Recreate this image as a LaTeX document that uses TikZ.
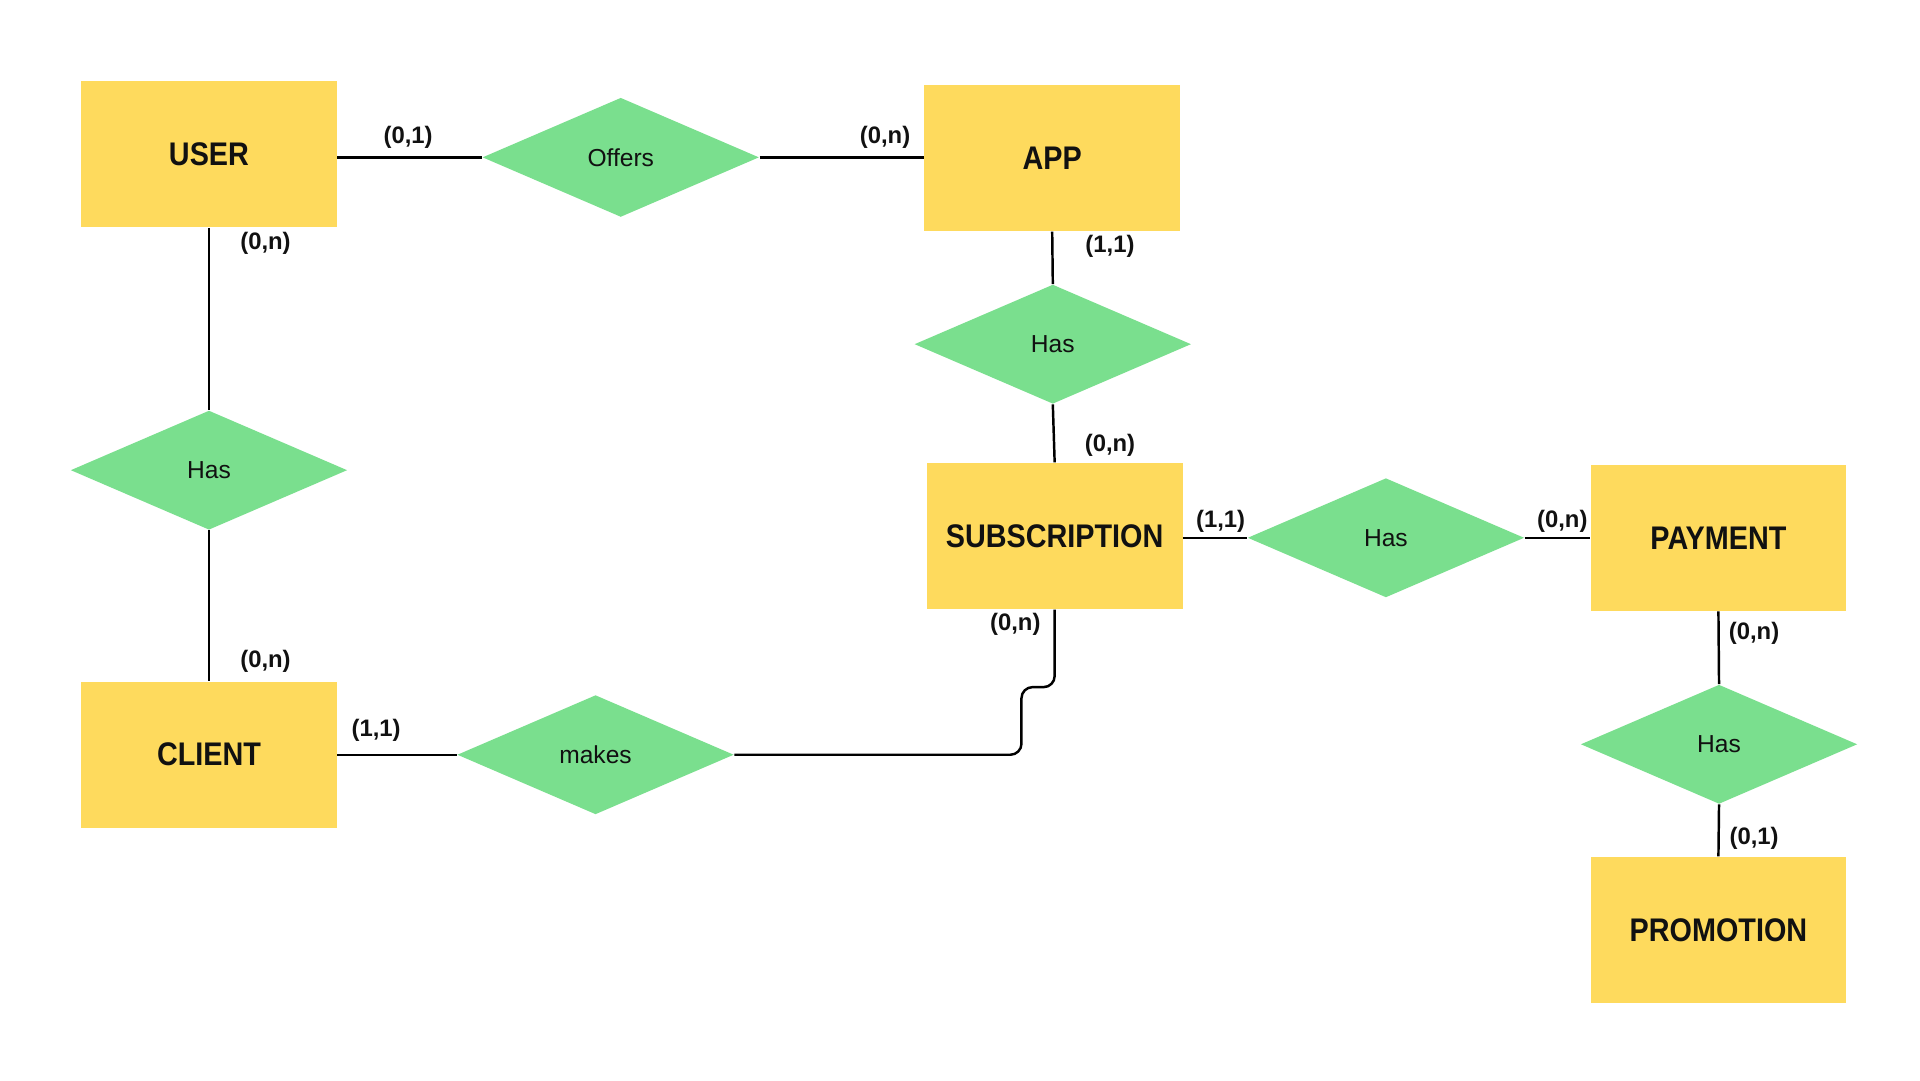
\documentclass[tikz,border=0pt]{standalone}
\usepackage{fontspec}
\setmainfont{Liberation Sans}
\newfontfamily\entfont{Liberation Sans}[FakeStretch=0.88]
\usetikzlibrary{shapes.geometric}
\definecolor{entyellow}{HTML}{FEDA5D}
\definecolor{relgreen}{HTML}{7ADF8E}
\definecolor{ink}{HTML}{111111}
\begin{document}
\begin{tikzpicture}[x=0.5pt,y=-0.5pt,
  entity/.style={fill=entyellow, minimum width=104pt, minimum height=59.5pt, inner sep=0pt, text=ink,
    font=\entfont\bfseries\fontsize{13.3}{15}\selectfont},
  rel/.style={diamond, fill=relgreen, minimum width=112.5pt, minimum height=48.5pt, inner sep=0pt, text=ink,
    font=\fontsize{10}{12}\selectfont},
  card/.style={font=\bfseries\fontsize{9.7}{11}\selectfont, inner sep=0pt, text=ink},
  link/.style={line width=1pt, draw=black}]
\useasboundingbox[fill=white] (0,0) rectangle (1562,879);

% entities
\node[entity] (user)  at (170,125.5) {USER};
\node[entity] (app)   at (856,128.5) {APP};
\node[entity] (sub)   at (858,436)   {SUBSCRIPTION};
\node[entity] (pay)   at (1398,437.5){PAYMENT};
\node[entity] (promo) at (1398,756.5){PROMOTION};
\node[entity] (client)at (170,614)   {CLIENT};

% relationships
\node[rel] (offers) at (505,128)    {Offers};
\node[rel] (hasA)   at (856.5,280)  {Has};
\node[rel] (hasL)   at (170,382.5)  {Has};
\node[rel] (hasP)   at (1127.5,437.5){Has};
\node[rel] (hasQ)   at (1398.5,605.5){Has};
\node[rel] (makes)  at (484.5,614)  {makes};

% connectors
\draw[link] (offers.west) -- (offers.west -| user.east);
\draw[link] (offers.east) -- (offers.east -| app.west);
\draw[link] (app.south) -- (hasA.north);
\draw[link] (hasA.south) -- (sub.north);
\draw[link] (sub.east |- hasP.west) -- (hasP.west);
\draw[link] (hasP.east) -- (hasP.east -| pay.west);
\draw[link] (pay.south) -- (hasQ.north);
\draw[link] (hasQ.south) -- (promo.north);
\draw[link] (user.south) -- (hasL.north);
\draw[link] (hasL.south) -- (client.north);
\draw[link] (client.east) -- (makes.west);
\draw[link, rounded corners=4.5pt] (makes.east) -- (831,614) -- (831,559) -- (858,559) -- (sub.south);

% cardinalities
\node[card] (c1)  at (332,112)  {(0,1)};
\node[card] (c2)  at (720,112)  {(0,n)};
\node[card] (c3)  at (216,198)  {(0,n)};
\node[card] (c4)  at (903,200)  {(1,1)};
\node[card] (c5)  at (903,362)  {(0,n)};
\node[card] (c6)  at (993,424)  {(1,1)};
\node[card] (c7)  at (1271,424) {(0,n)};
\node[card] (c8)  at (826,508)  {(0,n)};
\node[card] (c9)  at (1427,515) {(0,n)};
\node[card] (c10) at (1427,682) {(0,1)};
\node[card] (c11) at (216,538)  {(0,n)};
\node[card] (c12) at (306,594)  {(1,1)};
\end{tikzpicture}
\end{document}
